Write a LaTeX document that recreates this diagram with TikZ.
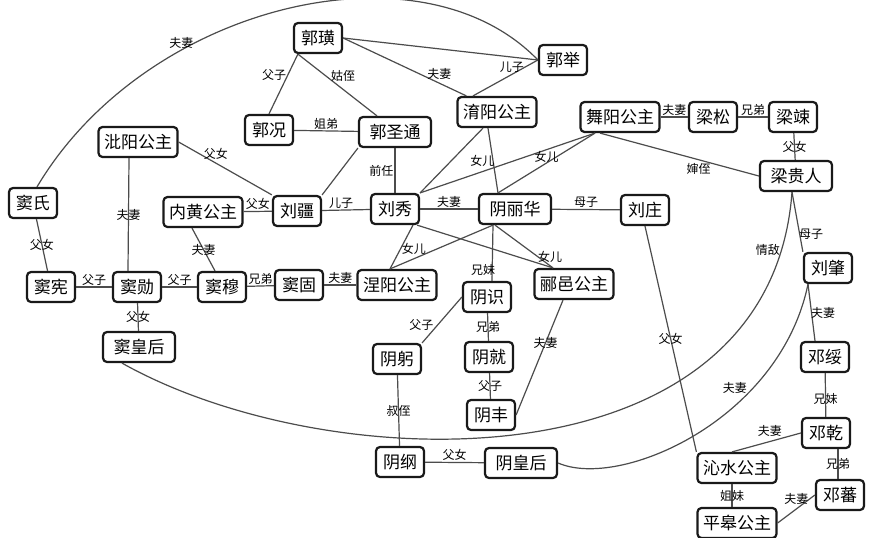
\documentclass[tikz,border=0pt]{standalone}
\usepackage{fontspec}
\newfontfamily\cjk{Noto Sans CJK SC}
\usepackage{tikz}
\usetikzlibrary{positioning,calc}

\begin{document}
\begin{tikzpicture}[
  x=1pt,y=-1pt,
  p/.style={draw=black!90,line width=2.2pt,rounded corners=4pt,fill=white,
    font=\cjk\fontsize{17}{17}\selectfont,inner xsep=5.5pt,inner ysep=3pt,
    minimum height=30pt,minimum width=48pt},
  pw/.style={p,minimum width=72pt},
  e/.style={draw=black!70,line width=1.2pt},
  l/.style={font=\cjk\fontsize{12}{12}\selectfont,inner sep=1pt,text=black}
]
\useasboundingbox[fill=white] (0,0) rectangle (879,538);

% 郭
\node[p]  (guohuang) at (318,38)  {郭璜};
\node[p]  (guoju)    at (563,60)  {郭举};
\node[p]  (guokuang) at (269,130) {郭况};
\node[pw] (gst)      at (395,132) {郭圣通};
\node[p]  (yuyang)   at (497,112) {淯阳公主};

% 梁
\node[p]  (wuyang)      at (620,117) {舞阳公主};
\node[p]  (liangsong)   at (713,117) {梁松};
\node[p]  (liangshu)    at (793,117) {梁竦};
\node[pw] (liangguiren) at (796,176) {梁贵人};

% 刘
\node[p]  (biyang)    at (138,142) {沘阳公主};
\node[p]  (neihuang)  at (203,212) {内黄公主};
\node[p]  (liujiang)  at (297,211) {刘疆};
\node[p]  (liuxiu)    at (395,209) {刘秀};
\node[pw] (yinlihua)  at (515,209) {阴丽华};
\node[p]  (liuzhuang) at (645,210) {刘庄};
\node[p]  (nieyang)   at (397,285) {涅阳公主};
\node[p]  (liyi)      at (574,284) {郦邑公主};

% 窦
\node[p]  (doushi)  at (33,203)  {窦氏};
\node[p]  (douxian) at (51,287)  {窦宪};
\node[p]  (douxun)  at (137,287) {窦勋};
\node[p]  (doumu)   at (222,287) {窦穆};
\node[p]  (dougu)   at (299,285) {窦固};
\node[pw] (douhh)   at (139,347) {窦皇后};

% 阴
\node[p]  (yinshi)  at (487,297) {阴识};
\node[p]  (yingong) at (397,359) {阴躬};
\node[p]  (yinjiu)  at (489,357) {阴就};
\node[p]  (yinfeng) at (491,415) {阴丰};
\node[p]  (yingang) at (400,462) {阴纲};
\node[pw] (yinhh)   at (521,463) {阴皇后};

% 邓
\node[p] (liuzhao)  at (828,268) {刘肇};
\node[p] (dengsui)  at (825,357) {邓绥};
\node[p] (dengqian) at (826,433) {邓乾};
\node[p] (qinshui)  at (737,468) {沁水公主};
\node[p] (dengfan)  at (840,495) {邓蕃};
\node[p] (pinggao)  at (737,523) {平皋公主};

% curves
\draw[e] ([xshift=4pt]doushi.north) .. controls (145,5) and (420,-62) .. (guoju.west) node[l,pos=0.32,above]{夫妻};
\draw[e] ([xshift=-17pt]douhh.south) .. controls (330,480) and (770,490) .. ([xshift=-4pt]liangguiren.south) node[l,pos=0.93,left]{情敌};
\draw[e] (yinhh.east) .. controls (620,490) and (780,420) .. ([xshift=-20pt]liuzhao.south) node[l,pos=0.7,left=5pt]{夫妻};

% 窦
\draw[e] (doushi) -- (douxian) node[l,midway]{父女};
\draw[e] ([xshift=-9pt]biyang.south) -- ([xshift=-9pt]douxun.north) node[l,midway]{夫妻};
\draw[e] (biyang.east) -- (liujiang.north west) node[l,pos=0.4,above=2pt]{父女};
\draw[e] (neihuang) -- (liujiang) node[l,midway,above]{父女};
\draw[e] ([xshift=-11pt]neihuang.south) -- ([xshift=-7pt]doumu.north) node[l,midway]{夫妻};
\draw[e] (douxian) -- (douxun) node[l,midway,above]{父子};
\draw[e] (douxun) -- (doumu) node[l,midway,above]{父子};
\draw[e] (doumu) -- (dougu) node[l,midway,above]{兄弟};
\draw[e] (dougu) -- (nieyang) node[l,midway,above]{夫妻};
\draw[e] (douxun) -- (douhh) node[l,midway]{父女};

% 郭
\draw[e] ([xshift=5pt]guohuang.south west) -- (guokuang.north) node[l,pos=0.35,left]{父子};
\draw[e] ([xshift=5pt]guohuang.south west) -- ([xshift=-18pt]gst.north) node[l,pos=0.35,right=4pt]{姑侄};
\draw[e] (guohuang.east) -- ([xshift=10pt]yuyang.north west) node[l,pos=0.78,above=2pt]{夫妻};
\draw[e] (guohuang.east) -- (guoju.west);
\draw[e] ([xshift=-24pt]yuyang.north) -- (guoju.west) node[l,pos=0.6,above]{儿子};
\draw[e] (guokuang) -- (gst) node[l,midway,above]{姐弟};
\draw[e] (gst.south west) -- (liujiang.north east);
\draw[e] (gst) -- (liuxiu) node[l,midway,left]{前任};
\draw[e] (liujiang) -- (liuxiu) node[l,pos=0.4,above]{儿子};

% 公主
\draw[e] ([xshift=-14pt]yuyang.south) -- (liuxiu.north east);
\draw[e] ([xshift=-9pt]yuyang.south) -- ([xshift=-17pt]yinlihua.north) node[l,midway,left=-3pt]{女儿};
\draw[e] ([xshift=-25pt]wuyang.south) -- (liuxiu.north east);
\draw[e] ([xshift=-25pt]wuyang.south) -- ([xshift=-17pt]yinlihua.north) node[l,midway,above=-1pt]{女儿};
\draw[e] (wuyang) -- (liangsong) node[l,midway,above]{夫妻};
\draw[e] (liangsong) -- (liangshu) node[l,midway,above]{兄弟};
\draw[e] ([xshift=-20pt]wuyang.south) -- (liangguiren.west) node[l,pos=0.62,below=2pt]{婶侄};
\draw[e] (liangshu) -- (liangguiren) node[l,midway]{父女};

% 刘秀 阴丽华
\draw[e] (liuxiu) -- (yinlihua) node[l,midway,above]{夫妻};
\draw[e] (yinlihua) -- (liuzhuang) node[l,midway,above]{母子};
\draw[e] ([xshift=18pt]liuxiu.south) -- ([xshift=-7pt]nieyang.north) node[l,pos=0.55,right]{女儿};
\draw[e] ([xshift=-22pt]yinlihua.south) -- ([xshift=-7pt]nieyang.north);
\draw[e] ([xshift=22pt]liuxiu.south) -- ([xshift=-21pt]liyi.north);
\draw[e] ([xshift=-20pt]yinlihua.south) -- ([xshift=-21pt]liyi.north) node[l,pos=0.75,right=-2pt]{女儿};
\draw[e] ([xshift=-22pt]yinlihua.south) -- ([xshift=5pt]yinshi.north) node[l,pos=0.8,xshift=-9pt]{兄妹};

% 阴
\draw[e] (yinshi.west) -- (yingong.north east) node[l,pos=0.6,left=3pt]{父子};
\draw[e] (yinshi) -- (yinjiu) node[l,midway]{兄弟};
\draw[e] (yinjiu) -- (yinfeng) node[l,midway]{父子};
\draw[e] ([xshift=-11pt]liyi.south) -- (yinfeng.east) node[l,pos=0.37]{夫妻};
\draw[e] (yingong) -- (yingang) node[l,midway]{叔侄};
\draw[e] (yingang) -- (yinhh) node[l,midway,above]{父女};

% 邓
\draw[e] (liuzhuang.south) -- (qinshui.north west) node[l,midway]{父女};
\draw[e] ([xshift=-4pt]liangguiren.south) -- (liuzhao.north west) node[l,pos=0.7,right=-2pt]{母子};
\draw[e] ([xshift=-20pt]liuzhao.south) -- ([xshift=-10pt]dengsui.north) node[l,midway,right=-2pt]{夫妻};
\draw[e] (dengsui) -- (dengqian) node[l,pos=0.6]{兄妹};
\draw[e] (dengqian.west) -- ([xshift=-5pt]qinshui.north) node[l,pos=0.45,above=3pt]{夫妻};
\draw[e] ([xshift=12pt]dengqian.south) -- ([xshift=-2pt]dengfan.north) node[l,midway]{兄弟};
\draw[e] ([xshift=-5pt]qinshui.south) -- ([xshift=-5pt]pinggao.north) node[l,midway]{姐妹};
\draw[e] (pinggao.east) -- (dengfan.west) node[l,midway,above=3pt]{夫妻};
\end{tikzpicture}
\end{document}
